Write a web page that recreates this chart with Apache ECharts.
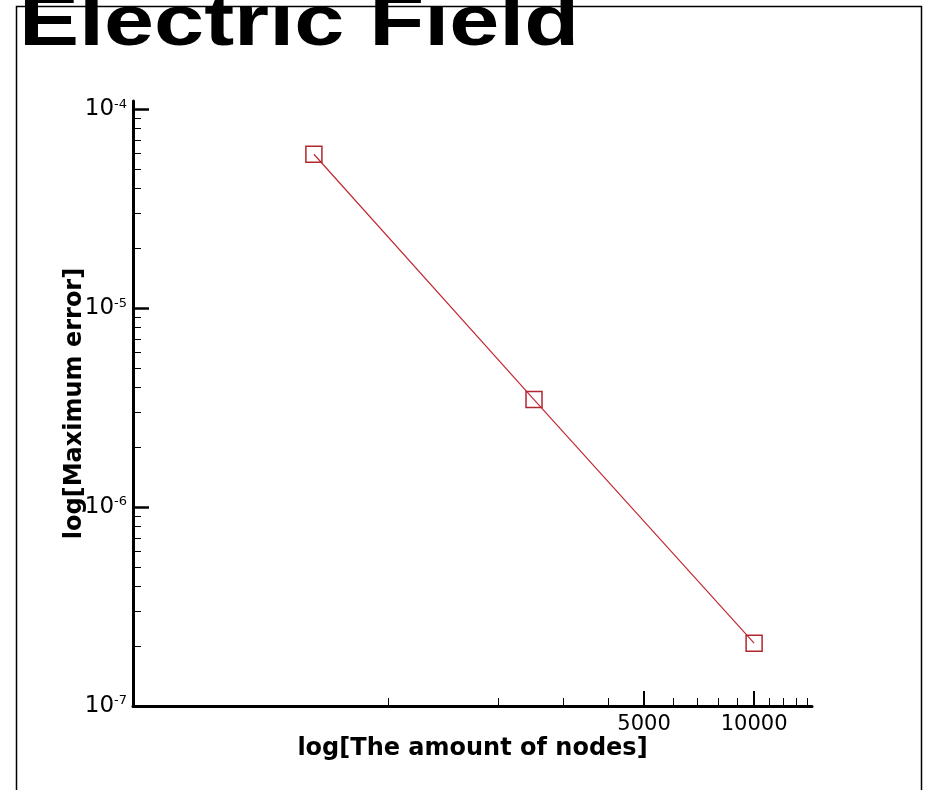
<!DOCTYPE html>
<html><head><meta charset="utf-8">
<script src="https://cdn.jsdelivr.net/npm/echarts@6/dist/echarts.min.js"></script>
<style>html,body{margin:0;padding:0;background:#fff}#c{width:925px;height:790px}</style>
</head><body><div id="c"></div>
<script>
const titleText = 'Electric Field';
const xAxisName = 'log[The amount of nodes]';
const yAxisName = 'log[Maximum error]';
const nodes = [625, 2500, 10000];
const maxError = [5.94e-5, 3.47e-6, 2.07e-7];
const xMajorTicks = [5000, 10000];
const xMinorTicks = [1000, 2000, 3000, 4000, 6000, 7000, 8000, 9000, 11000, 12000, 13000, 14000];
const yMajorTicks = [1e-7, 1e-6, 1e-5, 1e-4];
const yMinorTicks = [2e-7, 3e-7, 4e-7, 5e-7, 6e-7, 7e-7, 8e-7, 9e-7,
                     2e-6, 3e-6, 4e-6, 5e-6, 6e-6, 7e-6, 8e-6, 9e-6,
                     2e-5, 3e-5, 4e-5, 5e-5, 6e-5, 7e-5, 8e-5, 9e-5];

const X_MIN = 200, X_MAX = 14400, Y_MIN = 1e-7, Y_MAX = 1.1e-4;
const FONT = 'DejaVu Sans';

const chart = echarts.init(document.getElementById('c'), null, {renderer: 'canvas'});
const seriesData = nodes.map((n, i) => [n, maxError[i]]);

chart.setOption({
  animation: false,
  backgroundColor: '#fff',
  grid: {left: 133, right: 113, top: 101, bottom: 84, containLabel: false, outerBoundsMode: 'none'},
  graphic: [
    {type: 'rect', silent: true, z: 0,
     shape: {x: 16.5, y: 6.5, width: 905, height: 800},
     style: {fill: 'none', stroke: '#000', lineWidth: 1.5}},
    {type: 'text', silent: true, z: 10, x: 19, y: 25, scaleX: 1.25,
     style: {text: titleText, font: 'bold 72px "Liberation Sans"', fill: '#000',
             textAlign: 'left', textVerticalAlign: 'middle'}}
  ],
  xAxis: [
    {type: 'log', position: 'bottom', min: X_MIN, max: X_MAX,
     name: xAxisName, nameLocation: 'middle', nameGap: 31, nameMoveOverlap: false,
     nameTextStyle: {fontFamily: FONT, fontWeight: 'bold', fontSize: 24, color: '#000'},
     axisLine: {show: true, onZero: false, lineStyle: {color: '#000', width: 3}},
     axisTick: {show: true, inside: true, length: 15, customValues: xMajorTicks, lineStyle: {color: '#000', width: 2}},
     axisLabel: {show: true, customValues: xMajorTicks, margin: 8, fontFamily: FONT, fontSize: 21, color: '#000',
                 formatter: v => String(Math.round(v))},
     splitLine: {show: false}, minorTick: {show: false}},
    {type: 'log', position: 'bottom', min: X_MIN, max: X_MAX,
     axisLine: {show: false, onZero: false},
     axisTick: {show: true, inside: true, length: 8, customValues: xMinorTicks, lineStyle: {color: '#000', width: 1}},
     axisLabel: {show: false}, splitLine: {show: false}}
  ],
  yAxis: [
    {type: 'log', position: 'left', min: Y_MIN, max: Y_MAX,
     name: yAxisName, nameLocation: 'middle', nameGap: 46, nameRotate: 90, nameMoveOverlap: false,
     nameTextStyle: {fontFamily: FONT, fontWeight: 'bold', fontSize: 24, color: '#000'},
     axisLine: {show: true, onZero: false, lineStyle: {color: '#000', width: 3}},
     axisTick: {show: true, inside: true, length: 16, customValues: yMajorTicks, lineStyle: {color: '#000', width: 2.5}},
     axisLabel: {show: true, customValues: yMajorTicks, margin: 6,
                 formatter: v => '{b|10}{s|' + Math.round(Math.log10(v)) + '}',
                 rich: {b: {fontFamily: FONT, fontSize: 23, color: '#000'},
                        s: {fontFamily: FONT, fontSize: 13, color: '#000', padding: [0, 0, 10, 0]}}},
     splitLine: {show: false}},
    {type: 'log', position: 'left', min: Y_MIN, max: Y_MAX,
     axisLine: {show: false, onZero: false},
     axisTick: {show: true, inside: true, length: 8, customValues: yMinorTicks, lineStyle: {color: '#000', width: 1}},
     axisLabel: {show: false}, splitLine: {show: false}}
  ],
  series: [{
    type: 'line', xAxisIndex: 0, yAxisIndex: 0, data: seriesData,
    symbol: 'rect', symbolSize: 16, showSymbol: true,
    lineStyle: {color: '#c22a33', width: 1.2},
    itemStyle: {color: 'rgba(255,255,255,0)', borderColor: '#b3262e', borderWidth: 1.5},
    emphasis: {disabled: true}
  }]
});
</script></body></html>
